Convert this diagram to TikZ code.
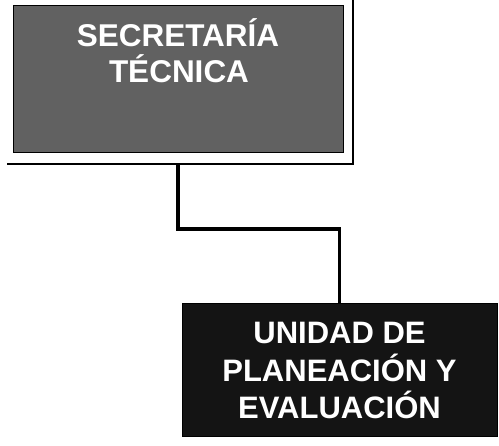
\documentclass[tikz,border=0pt]{standalone}
\usepackage{fontspec}
\setmainfont{Liberation Sans}
\begin{document}
\begin{tikzpicture}[x=1pt,y=-1pt,
  boxtop/.style={fill=black!62,draw=black,line width=1pt,minimum width=330pt,minimum height=147pt,inner sep=0pt},
  boxbot/.style={fill=black!92,draw=black,line width=1pt,minimum width=315pt,minimum height=133pt,inner sep=0pt,
    text=white,font=\bfseries\fontsize{31}{37.5}\selectfont,align=center},
  lbl/.style={text=white,font=\bfseries\fontsize{31.5}{36}\selectfont,inner sep=0pt,anchor=base},
  frameline/.style={line width=1.6pt,draw=black},
  conn/.style={line width=3.8pt,draw=black}]
\useasboundingbox (0,0) rectangle (499,446);
\node[boxtop] (st) at (178,79.5) {};
\node[lbl] (st1) at (178,47) {SECRETARÍA};
\node[lbl] (st2) at (179,83) {TÉCNICA};
\coordinate (ftr) at (353,0);
\coordinate (fbr) at (353,164);
\coordinate (fbl) at (7,164);
\draw[frameline] (ftr) -- (fbr) -- (fbl);
\coordinate (fb) at (178,164);
\node[boxbot] (up) at (339.5,370.5) {UNIDAD DE\\PLANEACIÓN Y\\EVALUACIÓN};
\draw[conn] (fb) -- (178,229) -| (up.north);
\end{tikzpicture}
\end{document}
